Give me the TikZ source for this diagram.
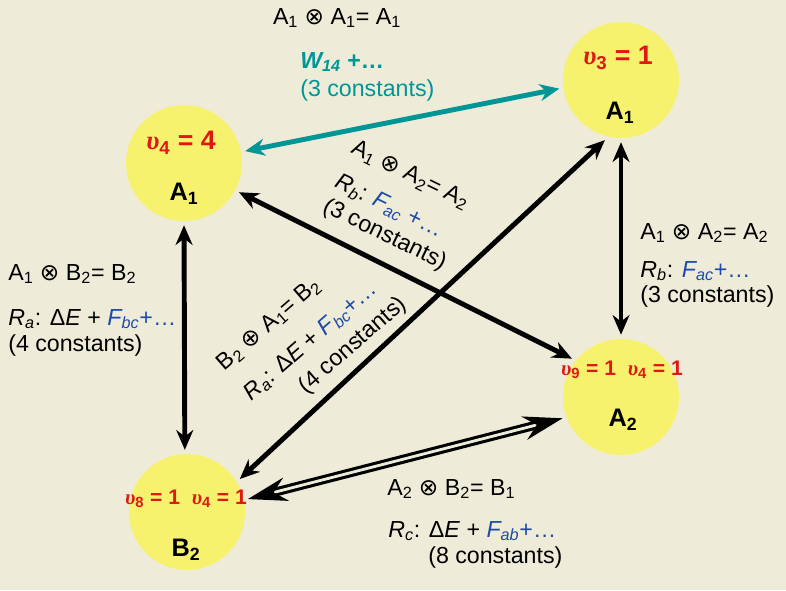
\documentclass[tikz,border=0pt]{standalone}
\usepackage{fontspec}
\setmainfont{Liberation Sans}
\newfontfamily\symf{DejaVu Sans}
\newfontfamily\grkf{Liberation Serif}
\usepackage{xcolor}
\usetikzlibrary{arrows.meta, positioning}

\definecolor{bgc}{RGB}{238,236,216}
\definecolor{ballc}{RGB}{247,242,110}
\definecolor{tealc}{RGB}{0,150,150}
\definecolor{bluec}{RGB}{30,75,170}
\definecolor{redc}{RGB}{222,25,20}

\newcommand{\otm}{{\symf ⊗}}
\newcommand{\opl}{{\symf ⊕}}
\newcommand{\ups}{{\grkf\itshape υ}}
\newcommand{\lo}[1]{\textsubscript{#1}}

\begin{document}
\begin{tikzpicture}[x=0.025cm, y=-0.025cm,
    statebox/.style={circle, fill=ballc, minimum size=2.9cm, inner sep=0pt, outer sep=3pt},
    vbig/.style={text=redc, font=\fontsize{19}{22}\selectfont\bfseries},
    vsmall/.style={text=redc, font=\fontsize{15}{18}\selectfont\bfseries},
    stlbl/.style={font=\fontsize{18}{22}\selectfont\bfseries},
    lbl/.style={font=\fontsize{16.5}{19}\selectfont, inner sep=0pt},
    arrow/.style={{Stealth[length=14pt,width=12pt]}-{Stealth[length=14pt,width=12pt]}, line width=3.5pt},
    darrow/.style={{Stealth[length=28pt,width=17pt]}-{Stealth[length=28pt,width=17pt]},
                   line width=2.2pt, double=bgc, double distance=2pt}
]
\fill[bgc] (0,0) rectangle (786,590);
\useasboundingbox (0,0) rectangle (786,590);

\node[statebox] (c3) at (621,80) {};
\node[statebox] (a1l) at (184,163) {};
\node[statebox] (a2) at (621,397) {};
\node[statebox] (b2) at (187,512) {};

\node[vbig] (u3) at (618,58) {\ups\lo3 = 1};
\node[stlbl] (n3) at (620,113) {A\lo1};
\node[vbig] (u4) at (181,143) {\ups\lo4 = 4};
\node[stlbl] (n4) at (184,194) {A\lo1};
\node[vsmall] (u9) at (622,370) {\ups\lo9 = 1\ \ \ups\lo4 = 1};
\node[stlbl] (n9) at (623,420) {A\lo2};
\node[vsmall] (u8) at (186,499) {\ups\lo8 = 1\ \ \ups\lo4 = 1};
\node[stlbl] (n8) at (186,550) {B\lo2};

\draw[arrow, tealc] (a1l.11) -- (c3.188);
\draw[arrow] (a1l.-28) -- (a2.142);
\draw[arrow] (b2.32) -- (c3.255);
\draw[arrow] (a1l.270) -- (b2.92);
\draw[arrow] (c3.south) -- (a2.north);
\draw[darrow] (b2.12) -- (a2.200);

\node[lbl] (t11) at (337,18) {A\lo1 \otm\ A\lo1= A\lo1};
\node[lbl, text=tealc, anchor=west] (w1) at (300,62) {\textbf{\textit{W\lo{14}} +…}};
\node[lbl, text=tealc, anchor=west] (w2) at (300,90) {(3 constants)};

\node[lbl, anchor=west] (l1) at (8,274) {A\lo1 \otm\ B\lo2= B\lo2};
\node[lbl, anchor=west] (l2) at (8,319) {\textit{R\lo{a}}: Δ\textit{E} + \textcolor{bluec}{\textit{F\lo{bc}}+…}};
\node[lbl, anchor=west] (l3) at (8,345) {(4 constants)};

\node[lbl, anchor=west] (r1) at (640,233) {A\lo1 \otm\ A\lo2= A\lo2};
\node[lbl, anchor=west] (r2) at (640,271) {\textit{R\lo{b}}: \textcolor{bluec}{\textit{F\lo{ac}}+…}};
\node[lbl, anchor=west] (r3) at (640,296) {(3 constants)};

\node[lbl, anchor=west] (b1) at (387,489) {A\lo2 \otm\ B\lo2= B\lo1};
\node[lbl, anchor=west] (b2l) at (388,531) {\textit{R\lo{c}}: Δ\textit{E} + \textcolor{bluec}{\textit{F\lo{ab}}+…}};
\node[lbl, anchor=west] (b3) at (428,557) {(8 constants)};

\node[lbl, align=left, rotate=-26, anchor=north west] (dlbl) at (357,138)
    {A\lo1 \otm\ A\lo2= A\lo2\\[7.7pt]
     \textit{R\lo{b}}: \textcolor{bluec}{\textit{F\lo{ac}} +…}\\[0.5pt]
     (3 constants)};
\node[lbl, align=left, rotate=41, anchor=north west] (elbl) at (214,359)
    {B\lo2 \opl\ A\lo1= B\lo2\\[9.4pt]
     \textit{R\lo{a}}: Δ\textit{E} + \textcolor{bluec}{\textit{F\lo{bc}}+…}\\[3pt]
     \hspace*{33pt}(4 constants)};
\end{tikzpicture}
\end{document}
